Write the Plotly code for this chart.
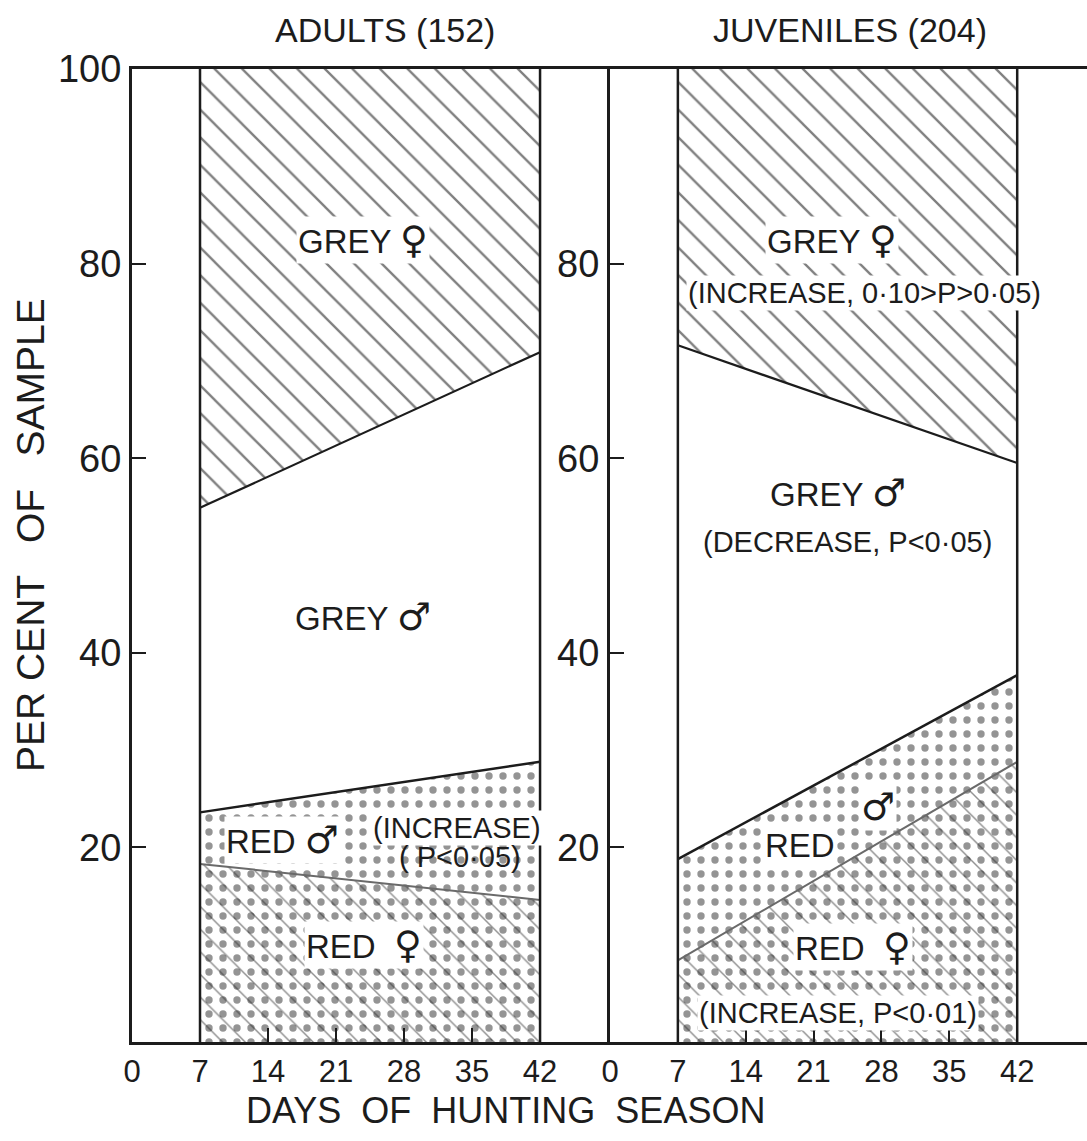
import numpy as np
import plotly.graph_objects as go

# ---------------- data ----------------
days = [7, 42]
x_ticks = [0, 7, 14, 21, 28, 35, 42]
y_ticks_left = [20, 40, 60, 80, 100]
y_ticks_right = [20, 40, 60, 80]

adult_red_f = [18.3, 14.6]
adult_red_m = [5.3, 14.2]
adult_grey_m = [31.3, 42.1]
adult_grey_f = [45.1, 29.1]

juv_red_f = [8.4, 28.8]
juv_red_m = [10.4, 8.9]
juv_grey_m = [52.8, 21.8]
juv_grey_f = [28.4, 40.5]

FONT = "Liberation Sans, DejaVu Sans, sans-serif"
INK = "#1c1c1c"

fig = go.Figure()


def add_panel(xa, ya, red_f, red_m, grey_m, grey_f):
    c1 = np.array(red_f)
    c2 = c1 + np.array(red_m)
    c3 = c2 + np.array(grey_m)
    c4 = c3 + np.array(grey_f)
    common = dict(x=days, xaxis=xa, yaxis=ya, mode="lines", showlegend=False, hoverinfo="skip")
    dots = dict(shape=".", size=14, solidity=0.22, fgcolor="#2a2a2a", bgcolor="white")
    # red female: dots
    fig.add_trace(go.Scatter(y=c1, fill="tozeroy", line=dict(width=0, color="#777"),
                             fillcolor="white", fillpattern=dots, **common))
    # red female: hatch overlay
    fig.add_trace(go.Scatter(y=c1, fill="tozeroy", line=dict(width=2, color="#6a6a6a"),
                             fillcolor="rgba(0,0,0,0)",
                             fillpattern=dict(shape="\\", size=16, solidity=0.09,
                                              fgcolor="#222", bgcolor="rgba(0,0,0,0)"),
                             **common))
    # red male: dots
    fig.add_trace(go.Scatter(y=c2, fill="tonexty", line=dict(width=2.5, color=INK),
                             fillcolor="white", fillpattern=dots, **common))
    # grey male: blank
    fig.add_trace(go.Scatter(y=c3, fill="tonexty", line=dict(width=2.2, color=INK),
                             fillcolor="white", **common))
    # grey female: hatch
    fig.add_trace(go.Scatter(y=c4, fill="tonexty", line=dict(width=0, color=INK),
                             fillcolor="white",
                             fillpattern=dict(shape="\\", size=19.5, solidity=0.12,
                                              fgcolor="#000", bgcolor="white"),
                             **common))
    for i in (0, -1):
        fig.add_shape(type="line", xref=xa, yref=ya, x0=days[i], x1=days[i], y0=0, y1=float(c4[i]),
                      line=dict(color=INK, width=2.5), layer="above")


add_panel("x", "y", adult_red_f, adult_red_m, adult_grey_m, adult_grey_f)
add_panel("x2", "y2", juv_red_f, juv_red_m, juv_grey_m, juv_grey_f)

axis_common = dict(showgrid=False, zeroline=False, showline=True, linecolor=INK, linewidth=3,
                   ticks="inside", tickcolor=INK, tickwidth=2, ticklen=14,
                   tickfont=dict(family=FONT, size=31, color=INK))
ytick_font = dict(family=FONT, size=38, color=INK)

split = 478 / 955
fig.update_layout(
    width=1087, height=1141,
    margin=dict(l=132, r=0, t=69, b=99),
    paper_bgcolor="white", plot_bgcolor="white",
    font=dict(family=FONT, color=INK),
    xaxis=dict(domain=[0, split], anchor="y", range=[0, 49.2], tickvals=x_ticks,
               mirror=True, **axis_common),
    xaxis2=dict(domain=[split, 1], anchor="y2", range=[0, 49.2], tickvals=x_ticks,
                mirror=True, **axis_common),
    yaxis=dict(domain=[0, 1], anchor="x", range=[0, 100], tickvals=y_ticks_left,
               **{**axis_common, "tickfont": ytick_font}),
    yaxis2=dict(domain=[0, 1], anchor="x2", range=[0, 100], tickvals=y_ticks_right,
                **{**axis_common, "tickfont": ytick_font}),
)

LBL = 33
SUB = 29
FEM = '<span style="font-family:DejaVu Sans;font-size:38px">♀</span>'
MAL = '<span style="font-family:DejaVu Sans;font-size:38px">♂</span>'


def ann(text, x, y, xr, yr, size, bg="white"):
    fig.add_annotation(text=text, x=x, y=y, xref=xr, yref=yr, showarrow=False,
                       font=dict(family=FONT, size=size, color=INK),
                       bgcolor=bg, borderpad=1, xanchor="center", yanchor="middle")


# adults
ann("GREY " + FEM, 23.8, 82.4, "x", "y", LBL)
ann("GREY " + MAL, 23.8, 43.7, "x", "y", LBL)
ann("RED " + MAL, 15.5, 20.8, "x", "y", LBL)
ann("(INCREASE)", 33.5, 22.0, "x", "y", SUB)
ann("( P<0·05)", 33.8, 19.0, "x", "y", SUB, bg="rgba(0,0,0,0)")
ann("RED  " + FEM, 23.9, 10.0, "x", "y", LBL)

# juveniles
ann("GREY " + FEM, 22.9, 82.4, "x2", "y2", LBL)
ann("(INCREASE, 0·10>P>0·05)", 26.3, 77.0, "x2", "y2", SUB)
ann("GREY " + MAL, 23.5, 56.4, "x2", "y2", LBL)
ann("(DECREASE, P<0·05)", 24.5, 51.4, "x2", "y2", SUB)
ann("RED", 19.6, 20.2, "x2", "y2", LBL)
ann(MAL, 27.6, 24.2, "x2", "y2", LBL)
ann("RED  " + FEM, 25.1, 9.8, "x2", "y2", LBL)
ann("(INCREASE, P<0·01)", 23.5, 3.0, "x2", "y2", SUB)

# titles
ann("ADULTS (152)", (385 - 132) / 955, 1.04, "paper", "paper", 34, bg="rgba(0,0,0,0)")
ann("JUVENILES (204)", (850 - 132) / 955, 1.04, "paper", "paper", 34, bg="rgba(0,0,0,0)")
ann("DAYS  OF  HUNTING  SEASON", (505 - 132) / 955, -0.07, "paper", "paper", 36,
    bg="rgba(0,0,0,0)")
fig.add_annotation(text="PER CENT   OF   SAMPLE", x=(30 - 132) / 955, y=0.521,
                   xref="paper", yref="paper", showarrow=False, textangle=-90,
                   font=dict(family=FONT, size=39, color=INK),
                   xanchor="center", yanchor="middle")

fig.write_html("out.html")
